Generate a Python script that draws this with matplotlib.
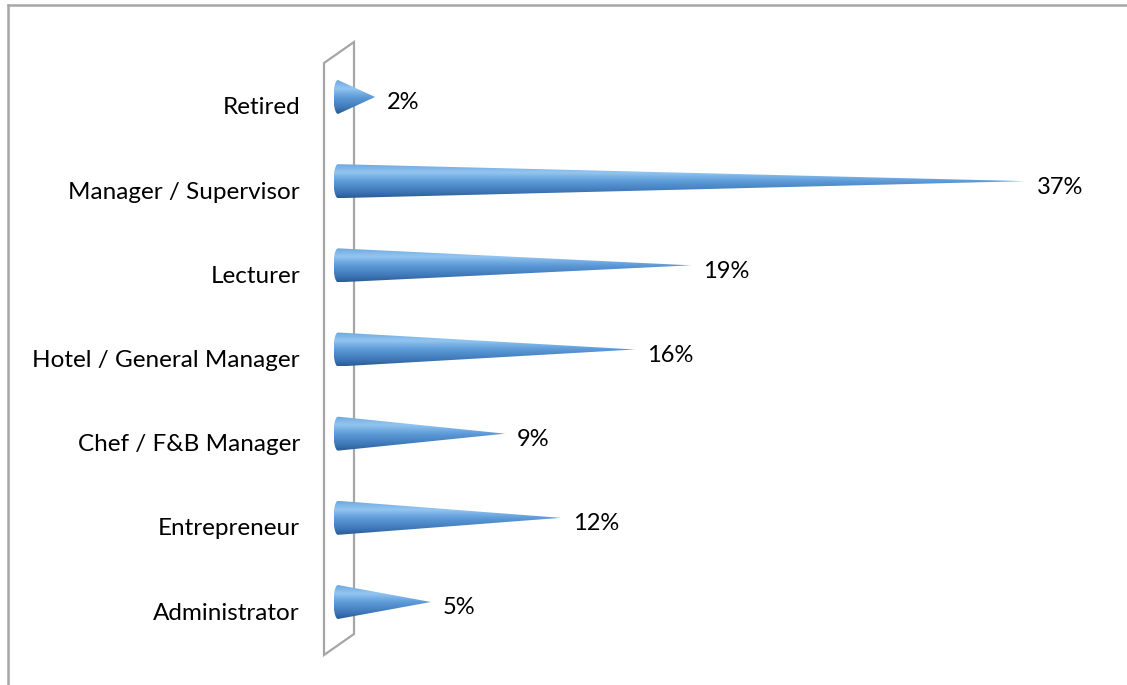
import numpy as np
import matplotlib
matplotlib.use("Agg")
import matplotlib.pyplot as plt
from matplotlib.patches import Polygon
from matplotlib.colors import LinearSegmentedColormap
from matplotlib.lines import Line2D

# data, bottom to top as drawn
categories = ["Administrator", "Entrepreneur", "Chef / F&B Manager",
              "Hotel / General Manager", "Lecturer", "Manager / Supervisor", "Retired"]
values = [5, 12, 9, 16, 19, 37, 2]

W, H = 1127, 685
fig = plt.figure(figsize=(W / 100, H / 100), dpi=100)
ax = fig.add_axes([0, 0, 1, 1])

# scale: pixel position of 0% and pixels per percent, pixel row of first category and spacing
x0_px, px_per_pct = 338, 18.57
y0_px, px_per_cat = 602, 84.17
ax.set_xlim(-x0_px / px_per_pct, (W - x0_px) / px_per_pct)
ax.set_ylim((y0_px - H) / px_per_cat, y0_px / px_per_cat)
ax.axis("off")

def px2x(p):
    return (p - x0_px) / px_per_pct

def px2y(p):
    return (y0_px - p) / px_per_cat

# back wall (3D side wall)
wall = Polygon([(px2x(324), px2y(655)), (px2x(324), px2y(63)),
                (px2x(354), px2y(42)), (px2x(354), px2y(634))],
               closed=True, fill=False, edgecolor="#a6a6a6", lw=1.6, zorder=1)
ax.add_patch(wall)

# cone gradient, top to bottom
cmap = LinearSegmentedColormap.from_list("cone", [
    (0.0, "#6ea8e0"), (0.25, "#93c5f0"), (0.5, "#5e9bd8"),
    (0.8, "#3f79ba"), (1.0, "#2b5a8e")])
grad = np.linspace(0, 1, 256).reshape(-1, 1)

half_h = 17 / px_per_cat
ell_w = 4.5 / px_per_pct
t = np.linspace(np.pi / 2, 3 * np.pi / 2, 40)

for i, v in enumerate(values):
    ex = ell_w * np.cos(t)
    ey = i + half_h * np.sin(t)
    pts = list(zip(ex, ey)) + [(v, i)]
    poly = Polygon(pts, closed=True, facecolor="none", edgecolor="none")
    ax.add_patch(poly)
    im = ax.imshow(grad, cmap=cmap, aspect="auto",
                   extent=(-ell_w, v, i - half_h, i + half_h),
                   origin="upper", zorder=2, interpolation="bilinear")
    im.set_clip_path(poly)
    # value label at the tip
    ax.text(v + 12 / px_per_pct, i - 6 / px_per_cat, f"{v}%",
            ha="left", va="center", fontsize=17, family="Lato", color="#000000")
    # category label
    ax.text(px2x(300), i - 11 / px_per_cat, categories[i],
            ha="right", va="center", fontsize=17.5, family="Lato", color="#000000")

# chart area border (top and left are visible)
fig.add_artist(Line2D([7.5 / W, 7.5 / W], [0, 1 - 5 / H], color="#a6a6a6", lw=1.8))
fig.add_artist(Line2D([7.5 / W, 1], [1 - 5 / H, 1 - 5 / H], color="#a6a6a6", lw=1.8))

ax.set_xlim(-x0_px / px_per_pct, (W - x0_px) / px_per_pct)
ax.set_ylim((y0_px - H) / px_per_cat, y0_px / px_per_cat)

fig.savefig("out.png", dpi=100, facecolor="white")
